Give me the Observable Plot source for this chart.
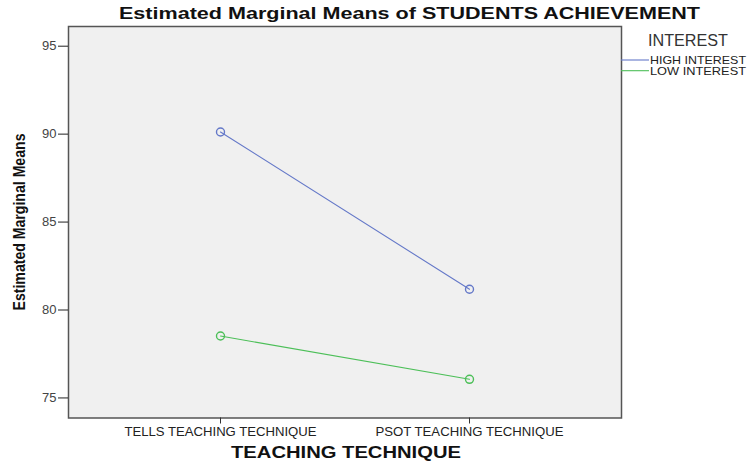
<!DOCTYPE html>
<html><head><meta charset="utf-8">
<script src="https://cdn.jsdelivr.net/npm/d3@7"></script>
<script src="https://cdn.jsdelivr.net/npm/@observablehq/plot@0.6"></script>
<style>
body{margin:0;background:#fff;font-family:"Liberation Sans",Arial,sans-serif}
#wrap{width:753px;height:463px}
</style></head><body><div id="wrap"></div>
<script>
const techniques = ["TELLS TEACHING TECHNIQUE", "PSOT TEACHING TECHNIQUE"];
const interestLevels = ["HIGH INTEREST", "LOW INTEREST"];
const highInterestMeans = [90.12, 81.18];
const lowInterestMeans = [78.52, 76.06];
const yTicks = [75, 80, 85, 90, 95];
const titleText = "Estimated Marginal Means of STUDENTS ACHIEVEMENT";
const yLabel = "Estimated Marginal Means";
const xLabel = "TEACHING TECHNIQUE";
const legendTitle = "INTEREST";
const seriesColors = ["#6478c8", "#4cbf58"];

const rows = [];
techniques.forEach((t, i) => {
  rows.push({technique: t, interest: interestLevels[0], mean: highInterestMeans[i]});
  rows.push({technique: t, interest: interestLevels[1], mean: lowInterestMeans[i]});
});

const FONT = '"Liberation Sans", Arial, sans-serif';
const chart = Plot.plot({
  width: 753, height: 463,
  marginLeft: 68, marginRight: 132, marginTop: 26, marginBottom: 45.5,
  style: {fontFamily: FONT, background: "transparent", overflow: "visible"},
  x: {type: "point", domain: techniques, padding: 0.61},
  y: {domain: [73.86, 96.12]},
  color: {domain: interestLevels, range: seriesColors},
  marks: [
    Plot.frame({fill: "#f0f0f0"}),
    Plot.line(rows, {x: "technique", y: "mean", z: "interest", stroke: "interest", strokeWidth: 1.1}),
    Plot.dot(rows, {x: "technique", y: "mean", stroke: "interest", r: 4, strokeWidth: 1.4, fill: "none"}),
    Plot.frame({stroke: "#555", strokeWidth: 1.5}),
    Plot.axisY({ticks: yTicks, tickSize: 10, tickPadding: 2, label: null, fontSize: 13, fill: "#444", stroke: "#222"}),
    Plot.axisX({tickSize: 6, tickPadding: 3, label: null, fontSize: 12, fill: "#222", stroke: "#333"})
  ]
});
document.getElementById("wrap").appendChild(chart);

const svg = d3.select(chart);
const xTickWidths = [192, 188];
svg.selectAll('g[aria-label="x-axis tick label"] text').each(function(d, i) {
  d3.select(this).attr("textLength", xTickWidths[i]).attr("lengthAdjust", "spacingAndGlyphs");
});

function addText(str, attrs) {
  const t = svg.append("text").text(str).attr("font-family", FONT).attr("text-anchor", "start")
    .attr("lengthAdjust", "spacingAndGlyphs");
  for (const k in attrs) t.attr(k, attrs[k]);
  return t;
}

addText(titleText, {x: 119, y: 19.3, "font-weight": "bold", "font-size": 17, fill: "#111", textLength: 581});
addText(xLabel, {x: 231, y: 458.3, "font-weight": "bold", "font-size": 16, fill: "#111", textLength: 230});
addText(yLabel, {transform: "translate(25,222) rotate(-90)", "text-anchor": "middle", "font-weight": "bold",
  "font-size": 17, fill: "#111", textLength: 177});

const color = chart.scale("color");
addText(legendTitle, {x: 648, y: 46, "font-size": 16, fill: "#333", textLength: 80});
const legendY = [60, 70.7];
interestLevels.forEach((name, i) => {
  svg.append("line")
    .attr("x1", 621).attr("x2", 649).attr("y1", legendY[i]).attr("y2", legendY[i])
    .attr("stroke", color.apply(name)).attr("stroke-width", 1.1);
  addText(name, {x: 650, y: legendY[i], dy: "0.35em", "font-size": 11, fill: "#222", textLength: 96});
});
</script>
</body></html>
